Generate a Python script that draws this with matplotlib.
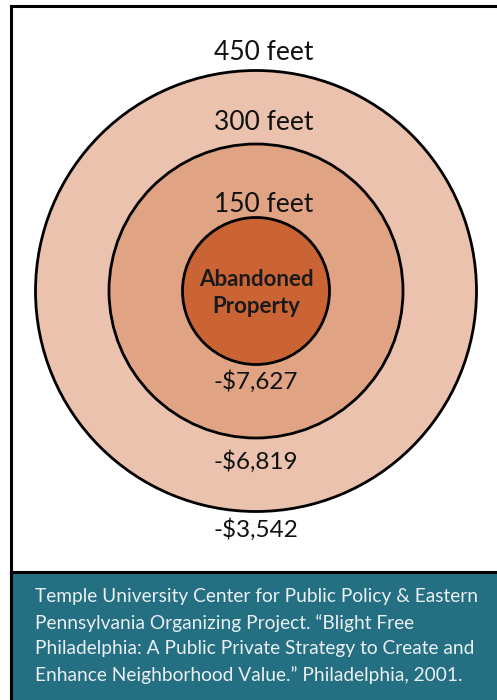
import matplotlib.pyplot as plt
from matplotlib.patches import Circle, Rectangle

# Datos del grafico
distancias = [450, 300, 150]
etiquetas_dist = ["450 feet", "300 feet", "150 feet"]
valores = ["-$3,542", "-$6,819", "-$7,627"]
colores = ["#EBC2AD", "#E0A383", "#CB6435"]
centro = "Abandoned\nProperty"
fuente = ("Temple University Center for Public Policy & Eastern\n"
          "Pennsylvania Organizing Project. \u201cBlight Free\n"
          "Philadelphia: A Public Private Strategy to Create and\n"
          "Enhance Neighborhood Value.\u201d Philadelphia, 2001.")

plt.rcParams['font.family'] = ['Lato', 'DejaVu Sans']

fig = plt.figure(figsize=(4.97, 7), dpi=100)
ax = fig.add_axes([0, 0, 1, 1])
ax.set_xlim(0, 497)
ax.set_ylim(700, 0)
ax.axis('off')

# marco y caja de la fuente
ax.add_patch(Rectangle((11, 6), 500, 710, facecolor='white', edgecolor='black', lw=2.2))
ax.add_patch(Rectangle((11, 572), 500, 140, facecolor='#246F82', edgecolor='black', lw=2.2))

cx, cy = 256, 291
escala = 0.49
for d, c in zip(distancias, colores):
    ax.add_patch(Circle((cx, cy), d * escala, facecolor=c, edgecolor='black', lw=2))

# etiquetas de distancia (encima de cada circulo)
ys_dist = [52, 122, 205]
for t, y in zip(etiquetas_dist, ys_dist):
    ax.text(cx + 8, y, t, ha='center', va='center', fontsize=19, color='#111111')

# valores (debajo)
ys_val = [530, 462, 382]
for t, y in zip(valores, ys_val):
    ax.text(cx, y, t, ha='center', va='center', fontsize=17.5, color='#111111')

ax.text(cx, 293, centro, ha='center', va='center', fontsize=16, fontweight='bold',
        color='#1a1a1a', linespacing=1.35)

ax.text(35, 636, fuente, ha='left', va='center', fontsize=13.8, color='#EAF0F2',
        linespacing=1.62)

fig.savefig('out.png', dpi=100)
